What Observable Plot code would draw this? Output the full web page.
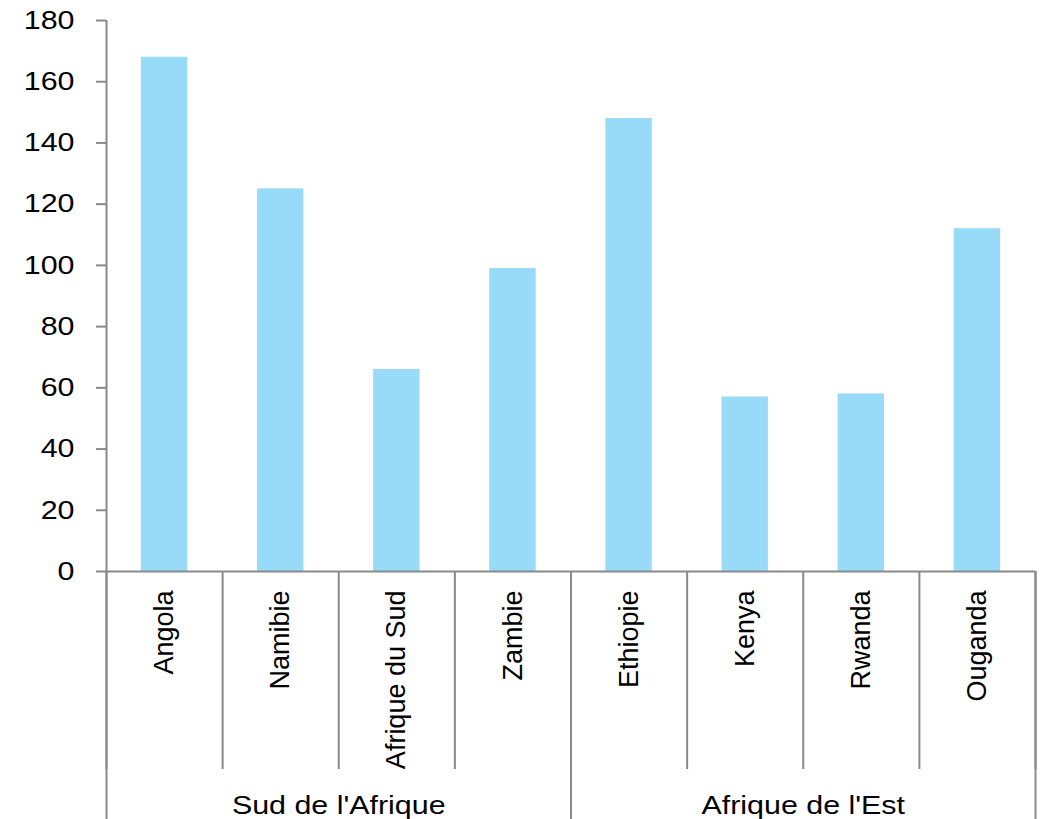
<!DOCTYPE html>
<html>
<head>
<meta charset="utf-8">
<script src="https://cdn.jsdelivr.net/npm/d3@7"></script>
<script src="https://cdn.jsdelivr.net/npm/@observablehq/plot@0.6"></script>
<style>
  html, body { margin: 0; padding: 0; background: #fff; }
</style>
</head>
<body>
<div id="chart"></div>
<script>
const countries = ["Angola", "Namibie", "Afrique du Sud", "Zambie", "Ethiopie", "Kenya", "Rwanda", "Ouganda"];
const values = [168, 125, 66, 99, 148, 57, 58, 112];
const regionOf = ["Sud de l'Afrique", "Sud de l'Afrique", "Sud de l'Afrique", "Sud de l'Afrique",
                  "Afrique de l'Est", "Afrique de l'Est", "Afrique de l'Est", "Afrique de l'Est"];
const groups = ["Sud de l'Afrique", "Afrique de l'Est"];
const yTicks = [0, 20, 40, 60, 80, 100, 120, 140, 160, 180];

const data = countries.map((c, i) => ({country: c, value: values[i], region: regionOf[i], i}));
// category boundaries (index space)
const boundaries = d3.range(countries.length + 1);
// group boundaries and centers (index space)
const groupInfo = groups.map(g => {
  const idx = data.filter(d => d.region === g).map(d => d.i);
  return {group: g, start: d3.min(idx), end: d3.max(idx) + 1};
});
const groupBounds = Array.from(new Set(groupInfo.flatMap(g => [g.start, g.end])));

const gray = "#8a8a8a";
const barColor = "#98dbf8";

const chart = Plot.plot({
  width: 1043,
  height: 819,
  marginTop: 20,
  marginBottom: 248,
  marginLeft: 106,
  marginRight: 8,
  style: {fontFamily: "'Liberation Sans', Arial, sans-serif", fontSize: "26px", color: "#000", background: "#fff"},
  x: {type: "linear", domain: [0, countries.length], axis: null},
  y: {domain: [0, 180], axis: null},
  marks: [
    Plot.rectY(data, {x1: d => d.i + 0.3, x2: d => d.i + 0.7, y1: 0, y2: "value", fill: barColor}),
    Plot.axisY(yTicks, {anchor: "left", tickSize: 10, tickPadding: 22, stroke: gray, strokeWidth: 2, fill: "#000", label: null}),
    Plot.ruleX([0], {stroke: gray, strokeWidth: 2}),
    Plot.ruleY([0], {stroke: gray, strokeWidth: 2}),
    Plot.axisX(boundaries, {anchor: "bottom", tickSize: 198, stroke: gray, strokeWidth: 2, text: null, label: null}),
    Plot.axisX(groupBounds, {anchor: "bottom", tickSize: 248, stroke: gray, strokeWidth: 2, text: null, label: null}),
    Plot.text(data, {x: d => d.i + 0.5, y: 0, text: "country", rotate: -90, textAnchor: "end", lineAnchor: "middle", dy: 19, fontSize: 27, fill: "#000"}),
    Plot.text(groupInfo, {x: d => (d.start + d.end) / 2, y: 0, text: "group", textAnchor: "middle", lineAnchor: "middle", dy: 234, fill: "#000"})
  ]
});
// the reference's horizontal text is slightly wider: stretch non-rotated labels horizontally
chart.querySelectorAll("text").forEach(t => {
  const tr = t.getAttribute("transform") || "";
  if (tr.includes("rotate")) return;
  t.setAttribute("transform", (tr + " scale(1.17,1)").trim());
});
document.getElementById("chart").appendChild(chart);
</script>
</body>
</html>
